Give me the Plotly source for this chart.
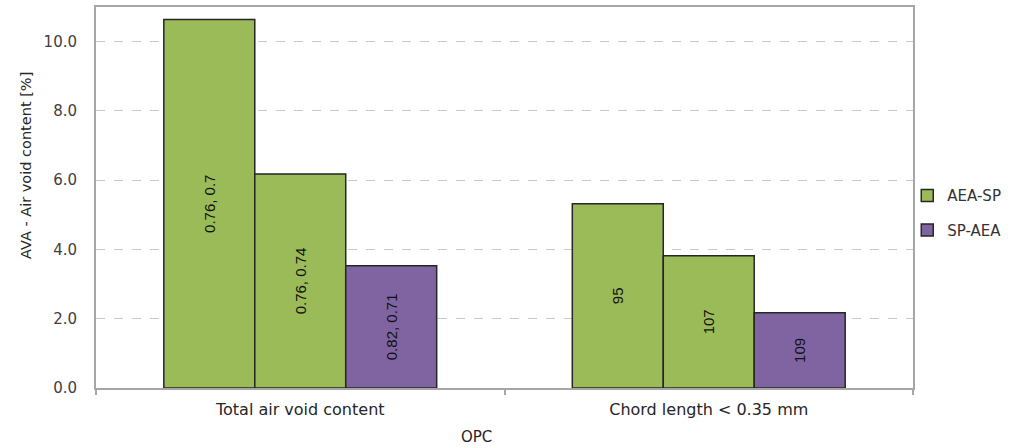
import plotly.graph_objects as go

categories = ["Total air void content", "Chord length < 0.35 mm"]
aea_sp_1 = [10.64, 5.32]
aea_sp_1_labels = ["0.76, 0.7", "95"]
aea_sp_2 = [6.18, 3.82]
aea_sp_2_labels = ["0.76, 0.74", "107"]
sp_aea = [3.53, 2.17]
sp_aea_labels = ["0.82, 0.71", "109"]
y_ticks = [0, 2, 4, 6, 8, 10]

GREEN = "#9BBB59"
PURPLE = "#8064A2"
OUTLINE = "#262626"
TEXTFONT = dict(family="Liberation Sans Narrow, Liberation Sans, DejaVu Sans Condensed", size=15, color="#111111")

fig = go.Figure()
fig.add_trace(go.Bar(x=categories, y=aea_sp_1, name="AEA-SP", text=aea_sp_1_labels,
                     marker=dict(color=GREEN, line=dict(color=OUTLINE, width=1.5)),
                     legendgroup="a"))
fig.add_trace(go.Bar(x=categories, y=aea_sp_2, name="AEA-SP", text=aea_sp_2_labels,
                     marker=dict(color=GREEN, line=dict(color=OUTLINE, width=1.5)),
                     showlegend=False, legendgroup="a"))
fig.add_trace(go.Bar(x=categories, y=sp_aea, name="SP-AEA", text=sp_aea_labels,
                     marker=dict(color=PURPLE, line=dict(color=OUTLINE, width=1.5)),
                     legendgroup="b"))
fig.update_traces(textposition="inside", textangle=-90, insidetextanchor="middle",
                  textfont=TEXTFONT, hoverinfo="skip")

fig.update_layout(
    width=1011, height=448,
    margin=dict(l=96, r=98, t=7, b=60, autoexpand=False),
    paper_bgcolor="white", plot_bgcolor="white",
    barmode="group", bargap=0.332, bargroupgap=0,
    font=dict(family="DejaVu Sans", color="#404040"),
    showlegend=True,
    legend=dict(x=0.993, y=0.46, xanchor="left", yanchor="middle",
                traceorder="grouped", tracegroupgap=12,
                font=dict(family="DejaVu Sans", size=15, color="#333333"),
                bgcolor="rgba(0,0,0,0)"),
    xaxis=dict(
        type="category", showgrid=False,
        showline=True, linecolor="#A6A6A6", linewidth=2, mirror=True,
        ticks="outside", tickson="boundaries", ticklen=5, tickcolor="#A6A6A6", tickwidth=2,
        ticklabelstandoff=6,
        tickfont=dict(family="DejaVu Sans", size=16, color="#262626"),
    ),
    yaxis=dict(
        range=[0, 11], tickvals=y_ticks, tickformat=".1f",
        showgrid=True, gridcolor="#C8C8C8", griddash="dash", gridwidth=1,
        showline=True, linecolor="#A6A6A6", linewidth=2, mirror=True,
        ticks="outside", ticklen=14, tickcolor="rgba(0,0,0,0)", zeroline=False,
        tickfont=dict(family="DejaVu Sans", size=15, color="#404040"),
    ),
    annotations=[
        dict(text="OPC", xref="paper", yref="paper", x=0.466, y=-0.1,
             xanchor="center", yanchor="top", showarrow=False,
             font=dict(family="DejaVu Sans", size=15, color="#262626")),
        dict(text="AVA - Air void content [%]", xref="paper", yref="paper",
             x=-0.0857, y=0.585, xanchor="center", yanchor="middle", textangle=-90,
             showarrow=False, font=dict(family="DejaVu Sans", size=14.5, color="#262626")),
    ],
)

fig.write_html("out.html", config={"displayModeBar": False},
               post_script="document.body.style.margin='0';document.body.style.overflow='hidden';")
